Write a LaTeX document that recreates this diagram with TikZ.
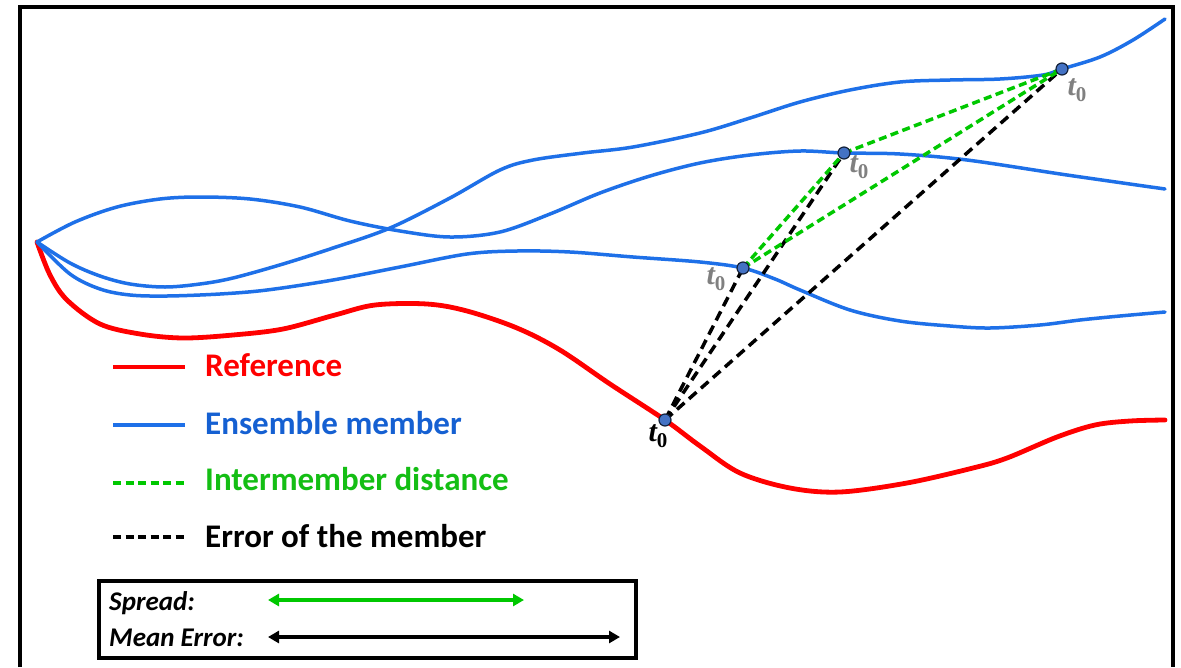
\documentclass[tikz,border=0pt]{standalone}
\usepackage{fontspec}
\setmainfont{Carlito}
\newfontfamily\tfont{Liberation Serif}
\usetikzlibrary{arrows.meta}
\definecolor{refred}{RGB}{255,0,0}
\definecolor{ensblue}{RGB}{30,112,232}
\definecolor{enstext}{RGB}{21,96,210}
\definecolor{imgreen}{RGB}{0,200,0}
\definecolor{imtext}{RGB}{20,190,20}
\definecolor{dotblue}{RGB}{68,114,196}
\definecolor{lblgray}{RGB}{128,128,128}
\newcommand{\tzero}{{\fontsize{30}{30}\selectfont\tfont\bfseries\itshape t}\raisebox{-6pt}{\fontsize{21}{21}\selectfont\tfont\bfseries 0}}
\tikzset{
  refline/.style={refred, line width=4.8pt, line cap=round, line join=round},
  ensline/.style={ensblue, line width=3.5pt, line cap=round, line join=round},
  gdash/.style={imgreen, line width=3.5pt, dash pattern=on 8pt off 4.5pt},
  kdash/.style={black, line width=3.5pt, dash pattern=on 10pt off 6pt},
  dot/.style={circle, fill=dotblue, draw=black!70!dotblue, line width=1.2pt, inner sep=0pt, minimum size=12pt},
  tlab/.style={inner sep=0pt},
  legtext/.style={anchor=base west, inner sep=0pt, font=\fontsize{33}{33}\selectfont\bfseries},
  boxtext/.style={anchor=base west, inner sep=0pt, font=\fontsize{27}{27}\selectfont\bfseries\itshape},
  legarrow/.style={line width=3.4pt, {Triangle[length=11pt,width=12pt]}-{Triangle[length=11pt,width=12pt]}}
}
\begin{document}
\begin{tikzpicture}[x=1pt, y=-1pt]
\useasboundingbox (0,0) rectangle (1181,667);
\fill[white] (0,0) rectangle (1181,667);
% outer frame (bottom edge lies below the picture)
\draw[line width=4pt] (20,667) -- (20,7) -- (1173,7) -- (1173,667);

% reference curve
\draw[refline] plot[smooth, tension=0.55] coordinates {(37,242) (50,275) (67,300) (100,324) (140,334) (183,338) (233,335) (283,329) (335,315) (375,305) (427,304) (467,311) (517,328) (560,350) (610,384) (665,420) (700,446) (740,473) (790,488) (840,492) (907,483) (973,468) (1007,458) (1057,437) (1095,425) (1130,421) (1165,420)};
% ensemble curve B (ends top right)
\draw[ensline] plot[smooth, tension=0.55] coordinates {(37,242) (70,263) (100,276) (130,284) (165,287) (200,284) (233,278) (283,264) (333,248) (390,228) (450,198) (500,170) (533,160) (583,153) (633,147) (700,133) (750,118) (800,102) (850,90) (900,82) (950,80) (1000,79) (1043,75) (1062,69) (1100,57) (1133,40) (1165,19)};
% ensemble curve A (hump, then middle right)
\draw[ensline] plot[smooth, tension=0.55] coordinates {(37,242) (75,222) (117,207) (160,199) (200,197) (250,199) (300,207) (350,221) (400,231) (450,237) (500,232) (550,214) (600,193) (650,176) (700,163) (750,155) (800,151) (844,153) (900,154) (967,160) (1067,175) (1165,189)};
% ensemble curve C (lower, ends low right)
\draw[ensline] plot[smooth, tension=0.55] coordinates {(37,242) (70,274) (100,289) (130,295) (167,296) (220,294) (267,290) (333,280) (400,267) (467,254) (517,251) (570,252) (633,257) (700,262) (743,268) (775,279) (800,290) (850,310) (900,321) (950,326) (990,328) (1040,325) (1080,320) (1120,316) (1165,312)};

% t0 points
\coordinate (c0) at (665,420);
\coordinate (c1) at (743,268);
\coordinate (c2) at (844,153);
\coordinate (c3) at (1062,69);

% error of the members
\draw[kdash] (c0) -- (c1);
\draw[kdash] (c0) -- (c2);
\draw[kdash] (c0) -- (c3);
% intermember distances
\draw[gdash] (c1) -- (c2);
\draw[gdash] (c1) -- (c3);
\draw[gdash] (c2) -- (c3);

\node[dot] (p0) at (c0) {};
\node[dot] (p1) at (c1) {};
\node[dot] (p2) at (c2) {};
\node[dot] (p3) at (c3) {};

\node[tlab, text=black] (l0) at (658,436) {\tzero};
\node[tlab, text=lblgray] (l1) at (716,279) {\tzero};
\node[tlab, text=lblgray] (l2) at (859,167) {\tzero};
\node[tlab, text=lblgray] (l3) at (1077,90) {\tzero};

% legend
\coordinate (a1) at (113,367); \coordinate (b1) at (185,367);
\coordinate (a2) at (113,425); \coordinate (b2) at (185,425);
\coordinate (a3) at (113,483); \coordinate (b3) at (185,483);
\coordinate (a4) at (113,537); \coordinate (b4) at (185,537);
\draw[refline, line cap=butt] (a1) -- (b1);
\draw[ensline, line cap=butt] (a2) -- (b2);
\draw[gdash, dash pattern=on 8pt off 4.5pt] (a3) -- (b3);
\draw[kdash, dash pattern=on 8pt off 4.5pt] (a4) -- (b4);
\node[legtext, text=refred] (t1) at (205,376) {Reference};
\node[legtext, text=enstext] (t2) at (205,434) {Ensemble member};
\node[legtext, text=imtext] (t3) at (205,490) {Intermember distance};
\node[legtext, text=black] (t4) at (205,547) {Error of the member};

% summary box
\draw[line width=3.5pt] (99,581) rectangle (636,658);
\node[boxtext] (s1) at (109,610) {Spread:};
\node[boxtext] (s2) at (109,646) {Mean Error:};
\coordinate (g1) at (268,600); \coordinate (g2) at (524,600);
\coordinate (k1) at (268,637); \coordinate (k2) at (620,637);
\draw[legarrow, imgreen] (g1) -- (g2);
\draw[legarrow, black] (k1) -- (k2);
\end{tikzpicture}
\end{document}
